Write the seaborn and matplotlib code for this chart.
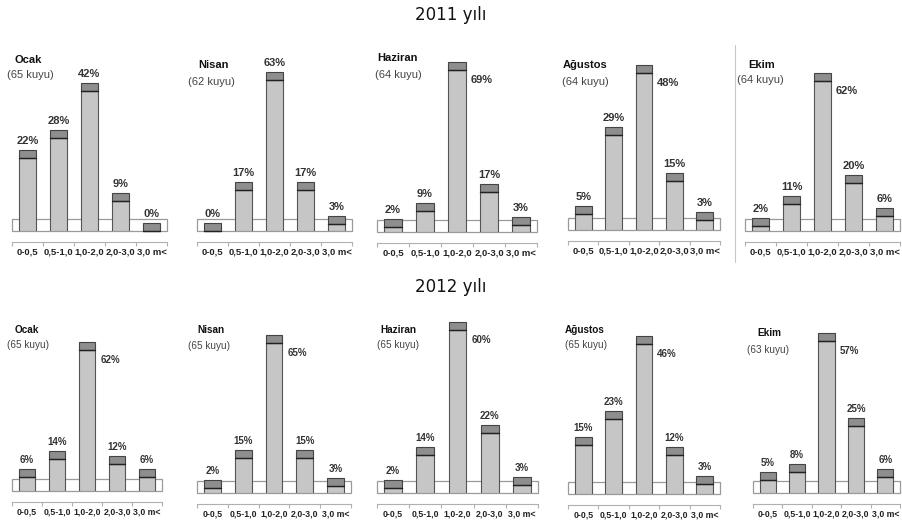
import matplotlib
matplotlib.use("Agg")
import matplotlib.pyplot as plt
import matplotlib.transforms as mtransforms
from matplotlib.patches import Rectangle
from matplotlib.lines import Line2D
from matplotlib import font_manager
import seaborn as sns
import pandas as pd

# ---------------- data ----------------
categories = ["0-0,5", "0,5-1,0", "1,0-2,0", "2,0-3,0", "3,0 m<"]
months = ["Ocak", "Nisan", "Haziran", "Ağustos", "Ekim"]
years = ["2011 yılı", "2012 yılı"]

wells_2011 = [65, 62, 64, 64, 64]
wells_2012 = [65, 65, 65, 65, 63]

ocak_2011 = [22, 28, 42, 9, 0]
nisan_2011 = [0, 17, 63, 17, 3]
haziran_2011 = [2, 9, 69, 17, 3]
agustos_2011 = [5, 29, 48, 15, 3]
ekim_2011 = [2, 11, 62, 20, 6]

ocak_2012 = [6, 14, 62, 12, 6]
nisan_2012 = [2, 15, 65, 15, 3]
haziran_2012 = [2, 14, 60, 22, 3]
agustos_2012 = [15, 23, 46, 12, 3]
ekim_2012 = [5, 8, 57, 25, 6]

values = [
    [ocak_2011, nisan_2011, haziran_2011, agustos_2011, ekim_2011],
    [ocak_2012, nisan_2012, haziran_2012, agustos_2012, ekim_2012],
]
wells = [wells_2011, wells_2012]

# ---------------- layout (pixels) ----------------
W, H = 902, 520
panel_px = [
    [(12, 167, 231, 148), (197, 352, 231, 159), (377, 537, 232, 170),
     (568, 720, 230, 165), (745, 900, 231, 158)],
    [(12, 162, 491, 149), (197, 351, 493, 158), (377, 538, 493, 171),
     (568, 720, 494, 158), (753, 900, 493, 160)],
]
name_px = [
    [(15, 60), (198, 65), (377, 58), (563, 65), (748, 65)],
    [(15, 330), (197, 330), (380, 330), (565, 330), (757, 333)],
]
well_px = [
    [(7, 75), (188, 82), (375, 75), (562, 82), (737, 80)],
    [(7, 345), (188, 346), (377, 345), (565, 345), (747, 350)],
]
title_y = [15, 287]
max_label_side = [["top", "top", "right", "right", "right"],
                  ["right", "right", "right", "right", "right"]]

CAP_PX = 8
FLOOR_PX = 12

sns.set_theme(style="white")
plt.rcParams["font.family"] = ["DejaVu Sans"]

installed = {f.name for f in font_manager.fontManager.ttflist}
narrow = "Liberation Sans Narrow" if "Liberation Sans Narrow" in installed else "Liberation Sans"
small_font = [narrow, "DejaVu Sans"]

fig = plt.figure(figsize=(W / 100, H / 100), dpi=100)
fig.patch.set_facecolor("white")

for r in range(2):
    fig.text(0.5, 1 - title_y[r] / H, years[r], ha="center", va="center",
             fontsize=12, color="#111111")
    fs_lbl = 8.0 if r == 0 else 7.0
    fs_tick = 6.8 if r == 0 else 6.3
    fs_name = 8.0 if r == 0 else 7.2
    for c in range(5):
        left, right, bottom, hmax = panel_px[r][c]
        ax = fig.add_axes([left / W, (H - bottom) / H, (right - left) / W, hmax / H])
        vals = values[r][c]
        vmax = max(vals)
        ytop = vmax * hmax / (hmax - CAP_PX)
        cap = ytop * CAP_PX / hmax

        df = pd.DataFrame({"cat": categories, "val": vals})
        trans = mtransforms.blended_transform_factory(ax.transAxes, ax.transAxes)
        ax.add_patch(Rectangle((0, 0), 1, FLOOR_PX / hmax, transform=trans,
                               facecolor="white", edgecolor="#9a9a9a", lw=0.9,
                               zorder=0.5, clip_on=False))
        sns.barplot(data=df, x="cat", y="val", order=categories, ax=ax,
                    color="#c6c6c6", saturation=1, width=0.55,
                    edgecolor="#555555", linewidth=0.8, zorder=2)
        for p in list(ax.patches):
            if isinstance(p, Rectangle) and p.get_zorder() == 2:
                x0, w, h = p.get_x(), p.get_width(), p.get_height()
                ax.add_patch(Rectangle((x0, h), w, cap, facecolor="#8e8e8e",
                                       edgecolor="#444444", lw=0.8, zorder=3,
                                       clip_on=False))
                ax.plot([x0, x0 + w], [h, h], color="#222222", lw=1.0,
                        zorder=4, clip_on=False)
        ax.set_xlim(-0.5, 4.5)
        ax.set_ylim(0, ytop)
        ax.set_xlabel("")
        ax.set_ylabel("")
        ax.set_yticks([])
        ax.patch.set_alpha(0)
        for s in ["top", "left", "right"]:
            ax.spines[s].set_visible(False)
        ax.spines["bottom"].set_position(("outward", 8))
        ax.spines["bottom"].set_color("#b0b0b0")
        ax.spines["bottom"].set_linewidth(0.8)
        ax.set_xticks(range(5))
        ax.set_xticklabels(categories, fontsize=fs_tick, fontweight="bold",
                           color="#222222", family=small_font)
        ax.set_xticks([-0.5, 0.5, 1.5, 2.5, 3.5, 4.5], minor=True)
        ax.tick_params(axis="x", which="major", length=0, pad=4)
        ax.tick_params(axis="x", which="minor", length=3, color="#b0b0b0",
                       width=0.8, direction="out", bottom=True)

        for i, v in enumerate(vals):
            top = v + cap
            if v == vmax and max_label_side[r][c] == "right":
                ax.annotate(f"{v}%", (i + 0.275, top), xytext=(5, -18),
                            textcoords="offset pixels",
                            ha="left", va="center", fontsize=fs_lbl,
                            fontweight="bold", color="#333333",
                            family=small_font)
            else:
                ax.annotate(f"{v}%", (i, top), xytext=(0, 4),
                            textcoords="offset pixels", ha="center",
                            va="bottom", fontsize=fs_lbl, fontweight="bold",
                            color="#333333", family=small_font)

        nx, ny = name_px[r][c]
        fig.text(nx / W, 1 - ny / H, months[c], ha="left", va="center",
                 fontsize=fs_name, fontweight="bold", color="#111111",
                 family=small_font)
        wx, wy = well_px[r][c]
        fig.text(wx / W, 1 - wy / H, f"({wells[r][c]} kuyu)", ha="left",
                 va="center", fontsize=fs_name, color="#444444",
                 family=small_font)

fig.add_artist(Line2D([735 / W, 735 / W], [1 - 45 / H, 1 - 262 / H],
                      color="#c8c8c8", lw=0.8, transform=fig.transFigure))

fig.savefig("out.png", dpi=100, facecolor="white")
